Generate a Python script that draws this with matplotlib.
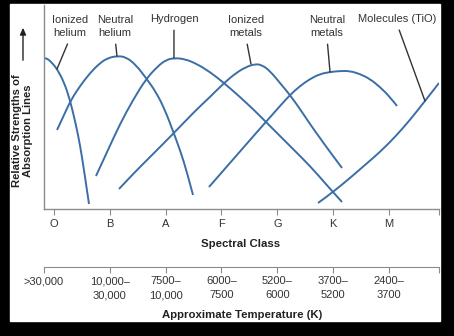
import matplotlib
matplotlib.use("Agg")
import matplotlib.pyplot as plt
from matplotlib.patches import Rectangle, PathPatch, FancyArrowPatch
from matplotlib.path import Path

plt.rcParams['font.family'] = ['Liberation Sans', 'DejaVu Sans']

W, H = 454, 336

# spectral class positions: O=0, B=1, A=2, F=3, G=4, K=5, M=6
classes = ['O', 'B', 'A', 'F', 'G', 'K', 'M']
class_pos = [0, 1, 2, 3, 4, 5, 6]
x_left, x_right = -0.179, 6.896

temp_pos = [x_left, 1, 2, 3, 4, 5, 6, x_right]
temp_labels = ['>30,000', '10,000–\n30,000', '7500–\n10,000', '6000–\n7500',
               '5200–\n6000', '3700–\n5200', '2400–\n3700', '']

# relative line strengths along the spectral sequence
he2_x = [-0.179, -0.107, -0.018, 0.054, 0.179, 0.287, 0.394, 0.466, 0.538, 0.627]
he2_y = [75.5, 75.0, 72.5, 70.0, 63.5, 54.5, 42.0, 32.0, 19.5, 2.5]

he1_x = [0.054, 0.179, 0.304, 0.466, 0.645, 0.824, 0.967, 1.128, 1.290, 1.469,
         1.648, 1.827, 1.988, 2.131, 2.257, 2.382, 2.490]
he1_y = [39.5, 47.0, 54.5, 61.5, 68.0, 73.0, 75.5, 76.5, 76.0, 72.0,
         65.5, 58.5, 49.5, 39.0, 29.5, 18.5, 7.0]

h_x = [0.752, 0.967, 1.182, 1.415, 1.648, 1.863, 2.006, 2.149, 2.346, 2.561,
       2.794, 3.045, 3.332, 3.600, 3.779, 4.048, 4.317, 4.585, 4.854, 4.997, 5.159]
h_y = [16.5, 29.5, 42.5, 54.5, 65.0, 71.5, 74.5, 75.5, 75.0, 72.5,
       68.5, 63.0, 56.0, 49.0, 44.0, 36.5, 29.0, 21.5, 13.0, 8.5, 3.5]

met2_x = [1.164, 1.451, 1.720, 2.131, 2.526, 2.794, 3.045, 3.260, 3.439, 3.600,
          3.726, 3.869, 4.048, 4.227, 4.406, 4.585, 4.764, 4.944, 5.159]
met2_y = [10.0, 18.5, 26.0, 37.5, 49.0, 56.0, 63.0, 68.0, 71.0, 72.5,
          72.0, 69.0, 63.0, 57.0, 50.0, 42.5, 35.5, 28.5, 20.5]

met1_x = [2.776, 3.152, 3.511, 3.779, 4.048, 4.227, 4.406, 4.585, 4.764, 4.944,
          5.123, 5.302, 5.481, 5.660, 5.839, 6.018, 6.144]
met1_y = [11.0, 23.0, 34.5, 43.0, 51.5, 57.0, 61.5, 65.0, 67.5, 68.5,
          69.0, 69.0, 67.5, 65.0, 61.0, 56.0, 51.5]

tio_x = [4.729, 4.997, 5.302, 5.570, 5.839, 6.108, 6.376, 6.645, 6.896]
tio_y = [3.0, 8.5, 15.5, 22.0, 28.5, 36.0, 44.5, 54.0, 63.0]

curve_color = '#3b6ea5'
axis_color = '#8c8c8c'
text_color = '#333333'


def fx(px):
    return px / W


def fy(py):
    return 1 - py / H


def smooth_path(xs, ys):
    # quadratic Bezier segments between midpoints, each point as control
    pts = list(zip(xs, ys))
    verts = [pts[0]]
    codes = [Path.MOVETO]
    for i in range(1, len(pts) - 1):
        mid = ((pts[i][0] + pts[i + 1][0]) / 2, (pts[i][1] + pts[i + 1][1]) / 2)
        if i == 1:
            verts.append(((pts[0][0] + pts[1][0]) / 2, (pts[0][1] + pts[1][1]) / 2))
            codes.append(Path.LINETO)
        if i == len(pts) - 2:
            mid = pts[-1]
        verts += [pts[i], mid]
        codes += [Path.CURVE3, Path.CURVE3]
    return Path(verts, codes)


fig = plt.figure(figsize=(W / 100, H / 100), dpi=100, facecolor='black')
fig.add_artist(Rectangle((fx(10), fy(321)), fx(430), 317 / H,
                         transform=fig.transFigure, color='white', zorder=-1))

ax = fig.add_axes([fx(44), fy(209), fx(395), 204 / H])
ax.set_facecolor('none')
ax.set_xlim(x_left, x_right)
ax.set_ylim(0, 102)

for xs, ys in [(he2_x, he2_y), (he1_x, he1_y), (h_x, h_y),
               (met2_x, met2_y), (met1_x, met1_y), (tio_x, tio_y)]:
    ax.add_patch(PathPatch(smooth_path(xs, ys), facecolor='none',
                           edgecolor=curve_color, lw=1.4, capstyle='butt'))

# labels with leader lines to their curves
labels = [
    ('Ionized\nhelium', (he2_x[3], he2_y[3]), (0.287, 91.2)),
    ('Neutral\nhelium', (he1_x[7], he1_y[7]), (1.093, 91.2)),
    ('Hydrogen', (h_x[7], h_y[7]), (2.149, 95.0)),
    ('Ionized\nmetals', (3.529, met2_y[9]), (3.439, 91.2)),
    ('Neutral\nmetals', (met1_x[9], met1_y[9]), (4.890, 91.2)),
    ('Molecules (TiO)', (tio_x[7], tio_y[7]), (6.144, 95.0)),
]
for text, xy, xytext in labels:
    ax.annotate(text, xy=xy, xytext=xytext, ha='center', va='center',
                fontsize=8, color=text_color, linespacing=1.35,
                arrowprops=dict(arrowstyle='-', color='#333333', lw=1.0,
                                shrinkA=2.5, shrinkB=0, relpos=(0.5, 0)))

for side in ['top', 'right']:
    ax.spines[side].set_visible(False)
for side in ['left', 'bottom']:
    ax.spines[side].set_color(axis_color)
    ax.spines[side].set_linewidth(1.0)
ax.set_yticks([])
ax.set_xticks(class_pos + [x_right])
ax.set_xticklabels(classes + [''])
ax.tick_params(axis='x', direction='out', length=4.5, width=0.8,
               color=axis_color, labelcolor=text_color, labelsize=8, pad=3)

# temperature scale underneath
ax2 = fig.add_axes([fx(44), fy(267), fx(395), 0.001])
ax2.set_facecolor('none')
ax2.set_xlim(x_left, x_right)
for side in ['top', 'right', 'left']:
    ax2.spines[side].set_visible(False)
ax2.spines['bottom'].set_color(axis_color)
ax2.set_yticks([])
ax2.set_xticks(temp_pos)
ax2.set_xticklabels(temp_labels, linespacing=1.55)
ax2.tick_params(axis='x', direction='out', length=4.5, width=0.8,
                color=axis_color, labelcolor=text_color, labelsize=8, pad=2)

fig.text(fx(241), fy(244), 'Spectral Class', ha='center', va='center',
         fontsize=8.2, fontweight='bold', color='#222222')
fig.text(fx(242), fy(315), 'Approximate Temperature (K)', ha='center',
         va='center', fontsize=8.2, fontweight='bold', color='#222222')

fig.text(fx(22.5), fy(131), 'Relative Strengths of\nAbsorption Lines',
         rotation=90, ha='center', va='center', fontsize=8.1,
         fontweight='bold', color='#222222', linespacing=1.15)
fig.add_artist(FancyArrowPatch(
    (fx(23), fy(63)), (fx(23), fy(25)), transform=fig.transFigure,
    arrowstyle='-|>,head_length=4,head_width=1.8', color='#222222', lw=1.0))

fig.savefig('out.png', dpi=100, facecolor='black')
